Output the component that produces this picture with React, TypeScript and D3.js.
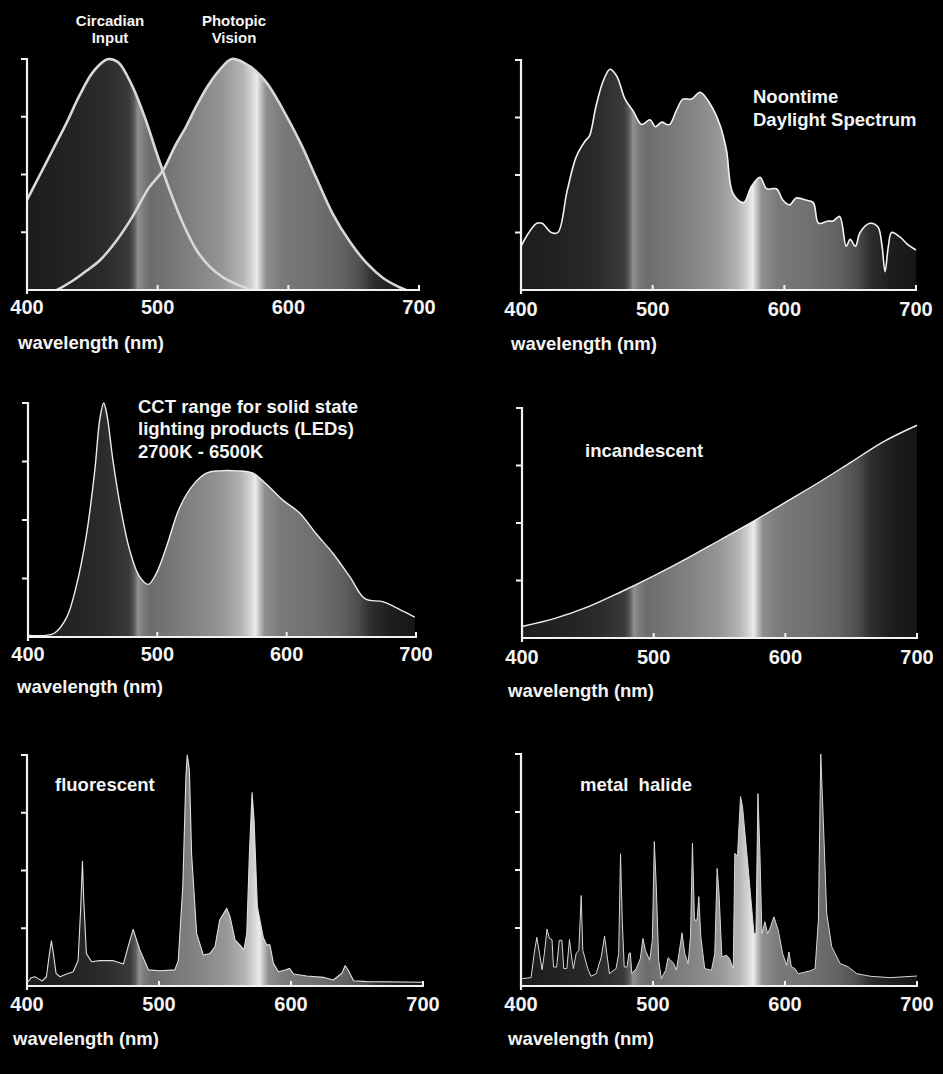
import React from 'react';
import * as d3 from 'd3';

type Pt = [number, number];

const xTicks = [400, 500, 600, 700];
const yTicks = [0.25, 0.5, 0.75, 1];

const circadian: Pt[] = [[400,0.39],[410,0.5],[420,0.61],[430,0.72],[440,0.84],[450,0.94],[460,0.995],[463,1.0],[470,0.985],[480,0.89],[490,0.75],[500,0.58],[510,0.42],[520,0.28],[530,0.17],[540,0.1],[550,0.055],[560,0.026],[570,0.005]];
const photopic: Pt[] = [[423,0],[435,0.04],[446,0.085],[456,0.13],[468,0.21],[481,0.32],[493,0.44],[504,0.517],[513,0.62],[522,0.71],[530,0.8],[538,0.88],[547,0.95],[557,1.0],[570,0.97],[583,0.9],[596,0.78],[609,0.64],[621,0.49],[634,0.33],[647,0.21],[660,0.116],[673,0.05],[685,0.012],[690,0]];

const daylight: Pt[] = [[400,0.19],[406,0.25],[412,0.29],[416,0.29],[423,0.25],[428,0.25],[435,0.43],[442,0.58],[449,0.65],[452,0.67],[457,0.8],[462.5,0.91],[467.6,0.96],[472.7,0.93],[479,0.83],[485,0.78],[491.6,0.72],[498,0.74],[502,0.71],[507,0.73],[510.6,0.72],[513,0.72],[518,0.78],[523,0.83],[529.6,0.83],[536,0.86],[543.5,0.81],[551,0.72],[556,0.61],[561,0.42],[569,0.38],[575,0.45],[581.5,0.49],[586.6,0.44],[594,0.44],[599,0.39],[604,0.37],[609,0.4],[617,0.39],[622,0.38],[626,0.29],[633,0.3],[637,0.3],[642,0.32],[647,0.19],[650,0.22],[654,0.19],[657.5,0.25],[665,0.29],[671,0.275],[674,0.2],[676.5,0.08],[679,0.19],[681.5,0.25],[688,0.23],[694,0.196],[700,0.174]];

const led: Pt[] = [[400,0.007],[414,0.007],[420.6,0.017],[430,0.085],[437,0.21],[445,0.43],[451.6,0.71],[455.5,0.93],[458.5,1.0],[461,0.95],[465.8,0.75],[472,0.54],[478.7,0.37],[486,0.26],[493,0.225],[499,0.27],[507,0.385],[517,0.55],[527.7,0.65],[538,0.7],[548,0.71],[561,0.71],[574,0.7],[584,0.655],[597,0.585],[610,0.53],[623,0.44],[636,0.356],[649,0.256],[660.5,0.164],[674.7,0.15],[687.6,0.117],[699,0.085]];

const incandescent: Pt[] = [[400,0.05],[425,0.085],[450,0.135],[475,0.2],[500,0.27],[525,0.345],[550,0.425],[575,0.505],[600,0.59],[625,0.675],[650,0.765],[675,0.855],[700,0.925]];

const fluorescent: Pt[] = [[401,0.019],[403,0.036],[406,0.04],[408,0.033],[411.6,0.022],[414.7,0.04],[417,0.14],[418.5,0.196],[420,0.14],[422,0.055],[425,0.04],[430,0.052],[435,0.062],[438.7,0.11],[440.7,0.34],[442,0.54],[443,0.37],[445,0.14],[449,0.105],[455,0.11],[465,0.11],[473,0.095],[476.6,0.17],[480.4,0.245],[485.5,0.156],[492,0.07],[500.7,0.066],[512,0.07],[514.6,0.11],[518,0.43],[520.4,0.906],[521.4,1.0],[523,0.935],[524.7,0.57],[528.5,0.228],[533.6,0.134],[538.6,0.141],[542.4,0.17],[546,0.286],[551.3,0.336],[553.8,0.3],[557.6,0.2],[561.4,0.177],[564.4,0.156],[566.5,0.228],[568.5,0.574],[570.5,0.837],[572,0.72],[574.5,0.343],[579,0.21],[581.6,0.178],[584,0.178],[586.7,0.098],[590.5,0.062],[595.5,0.069],[598.8,0.076],[602,0.052],[612,0.043],[624.6,0.0375],[632,0.026],[638.5,0.055],[641,0.088],[643.6,0.066],[647.4,0.023],[657.5,0.019],[700,0.016]];

const metalHalide: Pt[] = [[401,0.032],[407.6,0.036],[410,0.14],[412,0.21],[414,0.14],[416,0.07],[417.7,0.14],[419.7,0.245],[421.5,0.205],[423.5,0.2],[424.6,0.082],[427,0.082],[429,0.197],[431,0.197],[432.4,0.075],[434.7,0.075],[436.7,0.2],[438,0.14],[439.7,0.075],[441.8,0.14],[443.8,0.154],[445.6,0.39],[446.8,0.154],[450.6,0.075],[453,0.042],[457,0.053],[460.8,0.125],[463.3,0.215],[465,0.14],[467,0.053],[472,0.075],[474,0.14],[475.4,0.57],[476.7,0.284],[478.2,0.082],[480.3,0.082],[481.8,0.14],[482.8,0.143],[484,0.053],[487.3,0.075],[490.4,0.118],[492.4,0.205],[494.2,0.154],[497.5,0.111],[499.5,0.197],[501,0.622],[502.5,0.428],[504.3,0.111],[506.3,0.032],[509.6,0.068],[511.4,0.122],[513.4,0.111],[515.7,0.097],[517.7,0.068],[519.7,0.14],[522,0.229],[524,0.14],[526.6,0.097],[528.4,0.212],[529.9,0.615],[531.4,0.284],[533.4,0.284],[534.7,0.385],[536.2,0.212],[539.2,0.075],[544.3,0.068],[546.8,0.14],[548.6,0.507],[550,0.4],[552.2,0.125],[555.7,0.133],[558,0.118],[560.8,0.075],[562,0.572],[564,0.558],[566.3,0.817],[567.8,0.774],[572,0.514],[576.5,0.226],[578,0.226],[579.5,0.829],[581,0.572],[582.5,0.226],[584.8,0.277],[586.8,0.226],[588.6,0.248],[591.6,0.298],[594.9,0.24],[598.2,0.14],[601.3,0.089],[603,0.147],[604.8,0.082],[607.6,0.075],[610,0.053],[619,0.065],[622.8,0.075],[625.3,0.284],[627.1,1.0],[629,0.716],[631.6,0.313],[635.4,0.169],[641.8,0.097],[648,0.082],[654.4,0.053],[664.6,0.042],[679.7,0.036],[700,0.043]];

// grey shading of the visible spectrum (wavelength, grey level)
const spectrumShade: [number, string][] = [[400,'#1c1c1c'],[430,'#222222'],[460,'#2c2c2c'],[478,'#3a3a3a'],[482,'#5a5a5a'],[485,'#909090'],[489,'#7c7c7c'],[495,'#6c6c6c'],[510,'#767676'],[530,'#848484'],[550,'#969696'],[565,'#b4b4b4'],[572,'#d4d4d4'],[576,'#ececec'],[579,'#c0c0c0'],[583,'#8e8e8e'],[595,'#7a7a7a'],[620,'#707070'],[640,'#646464'],[655,'#4e4e4e'],[665,'#2e2e2e'],[680,'#1e1e1e'],[700,'#161616']];

type Label = { text: string; x: number; y: number; anchor?: string; size?: number };
type Panel = {
  x0: number; x1: number; yt: number; yb: number; labelY: number; wlX: number; wlY: number;
  series: Pt[][]; smooth: boolean; strokeW: number; stroke: string; labels: Label[];
};

const panels: Panel[] = [
  { x0: 27, x1: 419, yt: 59, yb: 290, labelY: 314, wlX: 18, wlY: 349, series: [circadian, photopic], smooth: true, strokeW: 2.6, stroke: '#d8d8d8',
    labels: [
      { text: 'Circadian', x: 110, y: 26, anchor: 'middle', size: 15 },
      { text: 'Input', x: 110, y: 43, anchor: 'middle', size: 15 },
      { text: 'Photopic', x: 234, y: 26, anchor: 'middle', size: 15 },
      { text: 'Vision', x: 234, y: 43, anchor: 'middle', size: 15 },
    ] },
  { x0: 521, x1: 916, yt: 60, yb: 290, labelY: 316, wlX: 511, wlY: 350, series: [daylight], smooth: true, strokeW: 1.6, stroke: '#f4f4f4',
    labels: [
      { text: 'Noontime', x: 753, y: 103 },
      { text: 'Daylight Spectrum', x: 753, y: 126 },
    ] },
  { x0: 28, x1: 416, yt: 403, yb: 637, labelY: 661, wlX: 17, wlY: 693, series: [led], smooth: true, strokeW: 1.4, stroke: '#eeeeee',
    labels: [
      { text: 'CCT range for solid state', x: 138, y: 413 },
      { text: 'lighting products (LEDs)', x: 138, y: 435 },
      { text: '2700K - 6500K', x: 138, y: 458 },
    ] },
  { x0: 522, x1: 917, yt: 408, yb: 638, labelY: 664, wlX: 508, wlY: 697, series: [incandescent], smooth: true, strokeW: 1.4, stroke: '#f0f0f0',
    labels: [{ text: 'incandescent', x: 585, y: 457 }] },
  { x0: 27, x1: 423, yt: 755, yb: 986, labelY: 1011, wlX: 13, wlY: 1045, series: [fluorescent], smooth: false, strokeW: 1.1, stroke: '#e0e0e0',
    labels: [{ text: 'fluorescent', x: 55, y: 791 }] },
  { x0: 521, x1: 917, yt: 754, yb: 986, labelY: 1011, wlX: 508, wlY: 1045, series: [metalHalide], smooth: false, strokeW: 1.0, stroke: '#d8d8d8',
    labels: [{ text: 'metal  halide', x: 580, y: 791 }] },
];

const FONT = '"Liberation Sans", Arial, Helvetica, sans-serif';

export default function App() {
  return (
    <svg width={943} height={1074} style={{ position: 'absolute', left: 0, top: 0, display: 'block' }}>
      <rect x={0} y={0} width={943} height={1074} fill="#000" />
      {panels.map((p, i) => {
        const x = d3.scaleLinear().domain([400, 700]).range([p.x0, p.x1]);
        const y = d3.scaleLinear().domain([0, 1]).range([p.yb, p.yt]);
        const curve = p.smooth ? d3.curveCatmullRom.alpha(0.5) : d3.curveLinear;
        const area = d3.area<Pt>().x(d => x(d[0])).y0(y(0)).y1(d => y(d[1])).curve(curve);
        const line = d3.line<Pt>().x(d => x(d[0])).y(d => y(d[1])).curve(curve);
        const gid = `spec${i}`;
        return (
          <g key={i}>
            <defs>
              <linearGradient id={gid} gradientUnits="userSpaceOnUse" x1={x(400)} x2={x(700)} y1={0} y2={0}>
                {spectrumShade.map(([w, c], k) => (
                  <stop key={k} offset={(w - 400) / 300} stopColor={c} />
                ))}
              </linearGradient>
            </defs>
            {p.series.map((s, k) => (
              <path key={'a' + k} d={area(s) || ''} fill={`url(#${gid})`} />
            ))}
            {p.series.map((s, k) => (
              <path key={'l' + k} d={line(s) || ''} fill="none" stroke={p.stroke} strokeWidth={p.strokeW} strokeLinejoin="round" />
            ))}
            {/* axes */}
            <line x1={p.x0} x2={p.x0} y1={p.yt - 1} y2={p.yb + 4} stroke="#f2f2f2" strokeWidth={2.2} />
            <line x1={p.x0 - 1} x2={p.x1 + 1} y1={p.yb} y2={p.yb} stroke="#f2f2f2" strokeWidth={2.2} />
            {yTicks.map(t => (
              <line key={t} x1={p.x0 - 6} x2={p.x0} y1={y(t)} y2={y(t)} stroke="#f2f2f2" strokeWidth={2} />
            ))}
            {xTicks.slice(1).map(t => (
              <line key={t} x1={x(t)} x2={x(t)} y1={p.yb} y2={p.yb - 5} stroke="#f2f2f2" strokeWidth={2} />
            ))}
            {xTicks.map(t => (
              <text key={'t' + t} x={x(t)} y={p.labelY} textAnchor="middle" fill="#f4f4f4"
                style={{ fontFamily: FONT, fontWeight: 700, fontSize: 20 }}>{t}</text>
            ))}
            <text x={p.wlX} y={p.wlY} fill="#f4f4f4" style={{ fontFamily: FONT, fontWeight: 700, fontSize: 18.5 }}>wavelength (nm)</text>
            {p.labels.map((l, k) => (
              <text key={'lab' + k} x={l.x} y={l.y} textAnchor={l.anchor || 'start'} fill="#f4f4f4"
                style={{ fontFamily: FONT, fontWeight: 700, fontSize: l.size || 18.5, whiteSpace: 'pre' }}>{l.text}</text>
            ))}
          </g>
        );
      })}
    </svg>
  );
}
